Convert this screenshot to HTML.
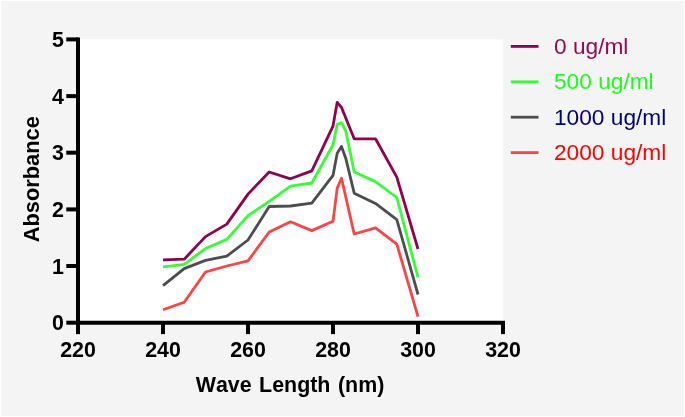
<!DOCTYPE html>
<html><head><meta charset="utf-8"><title>Absorbance vs Wave Length</title>
<style>
html,body{margin:0;padding:0;background:#fff;}
body{width:685px;height:417px;overflow:hidden;}
svg{display:block;}
text{font-family:"Liberation Sans",sans-serif;}
.b{font-weight:bold;font-size:21.4px;fill:#000;}
.t{font-weight:bold;font-size:21.8px;fill:#000;}
.l{font-size:22.7px;}
</style></head><body>
<svg width="685" height="417" viewBox="0 0 685 417">
<rect x="0" y="0" width="685" height="417" fill="#ffffff"/>
<rect x="1" y="1" width="683" height="415" fill="#f4f4f4"/>
<rect x="78.0" y="39.4" width="425.0" height="283.3" fill="#ffffff"/>
<polyline points="163.0,309.8 184.2,302.3 205.5,272.0 226.8,266.0 248.0,260.9 269.2,232.0 290.5,221.8 311.8,230.6 333.0,221.3 337.2,188.1 341.5,178.3 354.2,234.0 375.5,227.8 396.8,244.1 418.0,316.6" fill="none" stroke="#ff4242" stroke-width="2.8" stroke-linejoin="round"/>
<polyline points="163.0,285.7 184.2,268.6 205.5,260.4 226.8,256.1 248.0,240.0 269.2,206.5 290.5,206.0 311.8,203.1 333.0,175.4 337.2,153.3 341.5,146.5 345.8,158.4 354.2,193.2 375.5,203.4 396.8,219.6 418.0,294.5" fill="none" stroke="#4d4d4d" stroke-width="2.8" stroke-linejoin="round"/>
<polyline points="163.0,266.9 184.2,264.3 205.5,248.5 226.8,239.4 248.0,215.6 269.2,201.4 290.5,186.1 311.8,183.0 333.0,144.8 337.2,124.4 341.5,122.7 345.8,131.2 354.2,172.0 375.5,181.6 396.8,197.5 418.0,277.4" fill="none" stroke="#33ff33" stroke-width="2.8" stroke-linejoin="round"/>
<polyline points="163.0,259.8 184.2,259.2 205.5,236.6 226.8,224.1 248.0,194.1 269.2,172.0 290.5,178.8 311.8,170.9 333.0,126.1 337.2,102.3 341.5,107.4 354.2,138.8 375.5,138.8 396.8,177.1 418.0,249.0" fill="none" stroke="#92004f" stroke-width="2.8" stroke-linejoin="round"/>
<g stroke="#000" stroke-width="4" fill="none" stroke-linecap="butt">
<path d="M78.0,37.4 V324.7"/>
<path d="M76.0,322.7 H505.0"/>
<path d="M66.3,322.7 H78.0"/>
<path d="M66.3,266.0 H78.0"/>
<path d="M66.3,209.4 H78.0"/>
<path d="M66.3,152.7 H78.0"/>
<path d="M66.3,96.1 H78.0"/>
<path d="M66.3,39.4 H78.0"/>
<path d="M78.0,322.7 V334.1"/>
<path d="M163.0,322.7 V334.1"/>
<path d="M248.0,322.7 V334.1"/>
<path d="M333.0,322.7 V334.1"/>
<path d="M418.0,322.7 V334.1"/>
<path d="M503.0,322.7 V334.1"/>
</g>
<text class="b" x="64" y="330.2" text-anchor="end">0</text>
<text class="b" x="64" y="273.5" text-anchor="end">1</text>
<text class="b" x="64" y="216.9" text-anchor="end">2</text>
<text class="b" x="64" y="160.2" text-anchor="end">3</text>
<text class="b" x="64" y="103.6" text-anchor="end">4</text>
<text class="b" x="64" y="46.9" text-anchor="end">5</text>
<text class="b" x="78.0" y="357.4" text-anchor="middle">220</text>
<text class="b" x="163.0" y="357.4" text-anchor="middle">240</text>
<text class="b" x="248.0" y="357.4" text-anchor="middle">260</text>
<text class="b" x="333.0" y="357.4" text-anchor="middle">280</text>
<text class="b" x="418.0" y="357.4" text-anchor="middle">300</text>
<text class="b" x="503.0" y="357.4" text-anchor="middle">320</text>
<text class="t" x="290.0" y="392.2" text-anchor="middle" style="font-size:21.4px;font-kerning:none;word-spacing:1.6px">Wave Length (nm)</text>
<text class="t" transform="translate(39.4,179.2) rotate(-90)" text-anchor="middle">Absorbance</text>
<path d="M510.8,46.4 H538.5" stroke="#92004f" stroke-width="2.8" fill="none"/>
<text class="l" x="554.0" y="53.8" fill="#960a55">0 ug/ml</text>
<path d="M510.8,81.8 H538.5" stroke="#33ff33" stroke-width="2.8" fill="none"/>
<text class="l" x="554.0" y="89.2" fill="#1aff1a">500 ug/ml</text>
<path d="M510.8,117.2 H538.5" stroke="#4d4d4d" stroke-width="2.8" fill="none"/>
<text class="l" x="554.0" y="124.6" fill="#000080">1000 ug/ml</text>
<path d="M510.8,152.6 H538.5" stroke="#ff4242" stroke-width="2.8" fill="none"/>
<text class="l" x="554.0" y="160.0" fill="#ff0000">2000 ug/ml</text>
</svg>
</body></html>
